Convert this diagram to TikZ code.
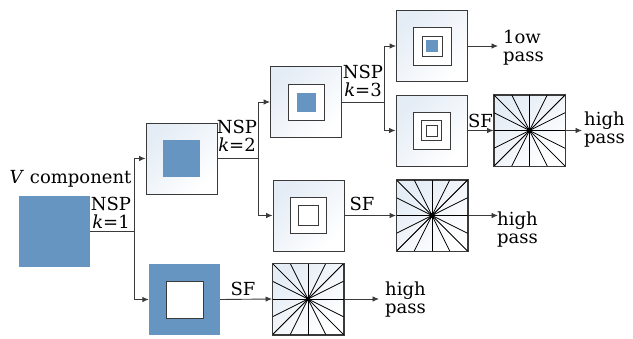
\documentclass[tikz,border=0pt]{standalone}
\usepackage{fontspec}
\setmainfont{DejaVu Serif}
\usetikzlibrary{arrows.meta}
\definecolor{fillblue}{HTML}{6795C1}
\definecolor{edge}{HTML}{3A3A3A}
\definecolor{tint}{HTML}{E4ECF5}
\begin{document}
\begin{tikzpicture}[x=1pt,y=-1pt,
  lbl/.style={font=\fontsize{18}{18}\selectfont, inner sep=0pt},
  frame/.style={draw=edge, line width=0.9pt, minimum size=71pt, inner sep=0pt,
    top color=tint, bottom color=white, shading angle=45},
  solidblue/.style={fill=fillblue, draw=none, minimum size=#1, inner sep=0pt},
  ring/.style={draw=edge, line width=0.8pt, fill=white, minimum size=#1, inner sep=0pt},
  link/.style={draw=edge, line width=0.9pt},
  arr/.style={link, -{Latex[length=6.5pt,width=5.5pt]}},
  ray/.style={draw=black, line width=0.7pt}
]
\useasboundingbox (0,0) rectangle (633,338);

% source block
\node[solidblue=71pt] (v) at (54.5,231) {};
\node[lbl, anchor=base] (vlab) at (70.5,183) {\textit{V} component};

% level 1
\node[frame] (a) at (181.5,158.5) {};
\node[solidblue=37pt] (a1) at (a.center) {};
\node[solidblue=71pt] (b) at (184.5,299.5) {};
\node[ring=37pt] (b1) at (b.center) {};
\node[frame] (d) at (308,299) {};

% level 2
\node[frame] (c) at (306,102) {};
\node[ring=36pt] (c1) at (c.center) {};
\node[solidblue=19pt] (c2) at (c.center) {};
\node[frame] (e) at (308.5,215.5) {};
\node[ring=36pt] (e1) at (e.center) {};
\node[ring=20pt] (e2) at (e.center) {};
\node[frame] (f) at (432,215.5) {};

% level 3
\node[frame] (g) at (432,46) {};
\node[ring=38pt] (g1) at (g.center) {};
\node[ring=20pt] (g2) at (g.center) {};
\node[solidblue=12pt] (g3) at (g.center) {};
\node[frame] (h) at (431.5,130.5) {};
\node[ring=37pt] (h1) at (h.center) {};
\node[ring=20pt] (h2) at (h.center) {};
\node[ring=11pt] (h3) at (h.center) {};
\node[frame] (i) at (529.5,130.5) {};

% directional fans: 16 rays to corners, edge midpoints and quarter points
\foreach \n in {d,f,i}{
  \foreach \t in {-1,-0.5,0,0.5,1}{
    \draw[ray] (\n.center) -- ++(\t*35.5,-35.5);
    \draw[ray] (\n.center) -- ++(\t*35.5,35.5);
    \draw[ray] (\n.center) -- ++(35.5,\t*35.5);
    \draw[ray] (\n.center) -- ++(-35.5,\t*35.5);
  }
  \fill (\n.center) +(-2.2,-2.2) rectangle +(2.2,2.2);
  \draw[edge, line width=0.9pt] (\n.north west) rectangle (\n.south east);
}

% junctions and free ends
\coordinate (j1) at (134,231);
\coordinate (j2) at (258,158.5);
\coordinate (j3) at (384,102);
\coordinate (outg) at (498,46);
\coordinate (outi) at (582,130.5);
\coordinate (outf) at (498,215.5);
\coordinate (outd) at (379,299);

% connectors
\draw[link] (v.east |- j1) -- (j1);
\draw[arr] (j1) |- (a.west);
\draw[arr] (j1) |- (b.west);
\draw[link] (a.east) -- (j2);
\draw[arr] (j2) |- (c.west);
\draw[arr] (j2) |- (e.west);
\draw[link] (c.east) -- (j3);
\draw[arr] (j3) |- (g.west);
\draw[arr] (j3) |- (h.west);
\draw[arr] (g.east) -- (outg);
\draw[arr] (h.east) -- (i.west);
\draw[arr] (i.east) -- (outi);
\draw[arr] (e.east) -- (f.west);
\draw[arr] (f.east) -- (outf);
\draw[arr] (b.east) -- (d.west);
\draw[arr] (d.east) -- (outd);

% labels
\node[lbl, align=center] (n1) at (111,212.5) {NSP\\\textit{k}=1};
\node[lbl, align=center] (n2) at (237,135.5) {NSP\\\textit{k}=2};
\node[lbl, align=center] (n3) at (363,80.5) {NSP\\\textit{k}=3};
\node[lbl, anchor=base] (s1) at (243,295) {SF};
\node[lbl, anchor=base] (s2) at (362,210) {SF};
\node[lbl, anchor=base] (s3) at (480.5,127) {SF};
\node[lbl, align=left, anchor=west] (p1) at (385,300) {high\\pass};
\node[lbl, align=left, anchor=west] (p2) at (497,230) {high\\pass};
\node[lbl, align=left, anchor=west] (p3) at (584,130) {high\\pass};
\node[lbl, align=left, anchor=west] (p4) at (503,48) {1ow\\pass};
\end{tikzpicture}
\end{document}
